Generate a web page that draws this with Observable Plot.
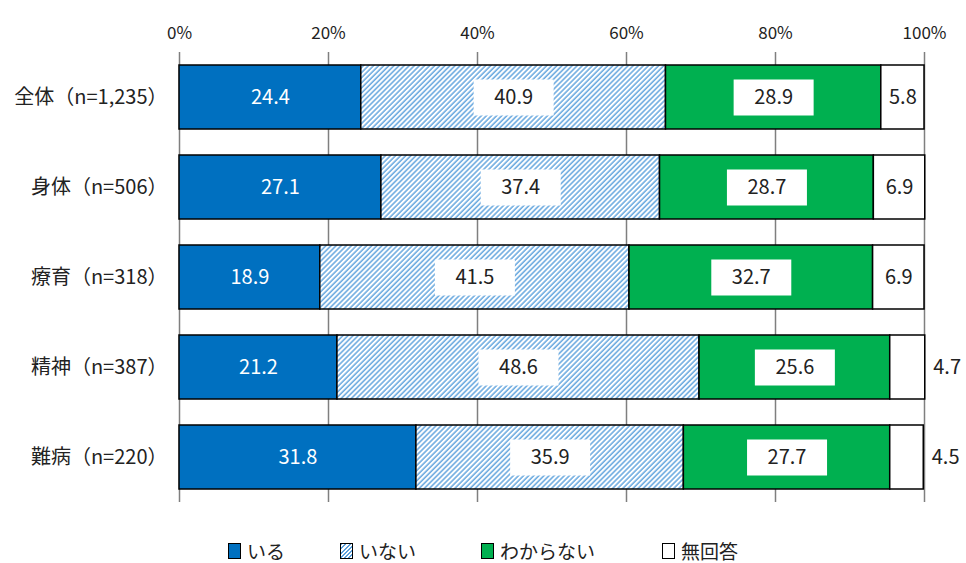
<!DOCTYPE html>
<html>
<head>
<meta charset="utf-8">
<script src="https://cdn.jsdelivr.net/npm/d3@7"></script>
<script src="https://cdn.jsdelivr.net/npm/@observablehq/plot@0.6"></script>
<style>
  html, body { margin: 0; padding: 0; background: #fff; }
  body { width: 966px; height: 563px; position: relative; font-family: "Noto Sans CJK JP", "Noto Sans", sans-serif; overflow: hidden; }
  #legend { position: absolute; left: 0; top: 540px; width: 966px; height: 22px; }
  .item { position: absolute; top: 0; display: flex; align-items: center; height: 22px; white-space: nowrap; }
  .item span { display: block; font-size: 19px; line-height: 22px; height: 22px; color: #222; }
  .sw { width: 11px; height: 14px; border: 1.5px solid #000; margin-right: 6px; box-sizing: content-box; }
</style>
</head>
<body>
<div id="chart"></div>
<div id="legend"></div>
<script>
const categories = ["全体（n=1,235）", "身体（n=506）", "療育（n=318）", "精神（n=387）", "難病（n=220）"];
const series = ["いる", "いない", "わからない", "無回答"];
const iru = [24.4, 27.1, 18.9, 21.2, 31.8];
const inai = [40.9, 37.4, 41.5, 48.6, 35.9];
const wakaranai = [28.9, 28.7, 32.7, 25.6, 27.7];
const mukaito = [5.8, 6.9, 6.9, 4.7, 4.5];
const xTicks = [0, 20, 40, 60, 80, 100];

const seriesValues = [iru, inai, wakaranai, mukaito];
const colors = ["#0070c0", "url(#hatch)", "#00b050", "#ffffff"];

const data = [];
categories.forEach((cat, i) => {
  series.forEach((s, j) => {
    data.push({cat, series: s, value: seriesValues[j][i]});
  });
});

const fmt = v => v.toFixed(1);
const stackOpts = {x: "value", y: "cat", z: "series", order: series};
const inside = d => d.series !== "無回答" || d.value > 5;

const plot = Plot.plot({
  width: 966,
  height: 520,
  marginLeft: 179,
  marginRight: 42,
  marginTop: 52,
  marginBottom: 18,
  style: {fontFamily: "'Noto Sans CJK JP', 'Noto Sans', sans-serif", color: "#222", background: "white"},
  x: {domain: [0, 100], label: null},
  y: {domain: categories, label: null, paddingInner: 0.291, paddingOuter: 0.137},
  color: {domain: series, range: colors},
  marks: [
    Plot.ruleX(xTicks, {stroke: "#7f7f7f", strokeWidth: 1.5}),
    Plot.axisX({anchor: "top", ticks: xTicks, tickFormat: d => d + "%", tickSize: 0, tickPadding: 14, fontSize: 17}),
    Plot.axisY({tickSize: 0, tickPadding: 12, fontSize: 20}),
    Plot.barX(data, Plot.stackX({...stackOpts, fill: "series", stroke: "#000", strokeWidth: 1.5})),
    Plot.dot(data, Plot.stackX({
      ...stackOpts,
      r: d => (d.series === "いない" || d.series === "わからない") ? 1 : 0,
      symbol: {draw(ctx) { ctx.rect(-40, -18, 80, 36); }},
      fill: "white", stroke: "none"
    })),
    Plot.text(data, Plot.stackX({
      ...stackOpts,
      text: d => d.series === "いる" ? fmt(d.value) : "",
      fill: "white", fontSize: 20
    })),
    Plot.text(data, Plot.stackX({
      ...stackOpts,
      text: d => (d.series !== "いる" && inside(d)) ? fmt(d.value) : "",
      fill: "#222", fontSize: 20
    })),
    Plot.text(data, Plot.stackX2({
      ...stackOpts,
      text: d => !inside(d) ? fmt(d.value) : "",
      fill: "#222", fontSize: 20, textAnchor: "start", dx: 8
    }))
  ]
});

const svg = d3.select(plot);
const pat = svg.insert("defs", ":first-child").append("pattern")
  .attr("id", "hatch").attr("patternUnits", "userSpaceOnUse")
  .attr("width", 3.6).attr("height", 3.6).attr("patternTransform", "rotate(45)");
pat.append("rect").attr("width", 3.6).attr("height", 3.6).attr("fill", "#ffffff");
pat.append("line").attr("x1", 1).attr("y1", 0).attr("x2", 1).attr("y2", 3.6)
  .attr("stroke", "#5aa0dc").attr("stroke-width", 1.4);

document.getElementById("chart").appendChild(plot);

// legend
const legendPos = [228, 340, 481, 662];
const legend = document.getElementById("legend");
series.forEach((s, i) => {
  const item = document.createElement("div");
  item.className = "item";
  item.style.left = legendPos[i] + "px";
  const sw = document.createElement("div");
  sw.className = "sw";
  if (i === 1) {
    sw.style.background = "repeating-linear-gradient(-45deg, #ffffff 0px, #ffffff 1.5px, #5aa0dc 1.5px, #5aa0dc 3px)";
  } else {
    sw.style.background = colors[i];
  }
  const label = document.createElement("span");
  label.textContent = s;
  item.appendChild(sw);
  item.appendChild(label);
  legend.appendChild(item);
});
</script>
</body>
</html>
